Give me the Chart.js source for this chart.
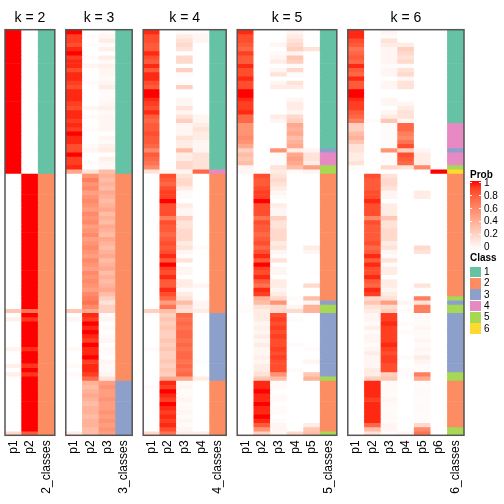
<!DOCTYPE html>
<html lang="es">

<head>
    <meta charset="UTF-8">
    <title>Clases por k</title>
    <script src="https://cdn.jsdelivr.net/npm/chart.js"></script>
    <style>
        body { margin: 0; background: #fff; }
        #stage { position: relative; width: 504px; height: 504px; overflow: hidden; font-family: "Liberation Sans", Arial, sans-serif; }
        #stage canvas { position: absolute; top: 0; }
        .lg { position: absolute; font-size: 10px; line-height: 10px; color: #000; white-space: nowrap; }
        .lg.bold { font-weight: bold; }
        .box { position: absolute; }
    </style>
</head>

<body>
    <div id="stage"></div>

    <script>
        // Probabilidades por fila (96 muestras, mismo orden en todos los paneles)
        const k2_p1 = [
            1,1,1,1,1,1,1,1,1,1, 1,1,1,1,1,1,1,1,1,1, 1,1,1,1,1,1,1,1,1,1,
            1,1,1,1,0,0,0,0,0,0, 0,0,0,0,0,0,0,0,0,0, 0,0,0,0,0,0,0,0,0,0,
            0,0,0,0,0,0,.3,0,.08,0, 0,0,0,0,0,.06,0,0,0,.08, 0,.08,0,0,0,0,0,0,0,0,
            0,0,0,0,0,.2];
        const k2_p2 = [
            0,0,0,0,0,0,0,0,0,0, 0,0,0,0,0,0,0,0,0,0, 0,0,0,0,0,0,0,0,0,0,
            0,0,0,0,1,1,1,1,1,1, 1,1,1,1,1,1,1,1,1,1, 1,1,1,1,1,1,1,1,1,1,
            1,1,1,1,1,1,.7,1,.92,1, 1,1,1,1,1,.94,1,1,1,.92, 1,.92,1,1,1,1,1,1,1,1,
            1,1,1,1,1,.8];
        const k2_classes = '1111111111 1111111111 1111111111 1111222222 2222222222 2222222222 2222222222 2222222222 2222222222 222222';

        const k3_p1 = [
            1,.9,.9,.85,.95,1,.9,.95,.95,.85, .95,.95,.9,.85,.95,.95,.95,.9,.85,.95, .95,.9,.95,.9,1,.95,.95,.85,.85,1,
            .9,.9,.95,.45,0,0,0,0,0,0, 0,0,0,0,0,0,0,0,0,0, 0,0,0,0,0,0,0,0,0,0,
            0,0,0,0,0,0,.3,0,.05,0, 0,0,0,0,0,.03,0,0,0,.03, 0,.03,0,0,0,0,0,0,0,0,
            0,0,0,0,0,.1];
        const k3_p2 = [
            0,.02,0,.02,0,0,.03,0,.05,0, 0,0,.02,0,0,0,0,0,.05,0, .03,0,0,.02,0,0,0,.03,.05,0,
            0,.02,0,.15,.55,.65,.55,.6,.5,.55, .6,.55,.5,.6,.55,.6,.5,.55,.6,.5, .55,.6,.55,.5,.6,.55,.5,.6,.55,.6,
            .55,.5,.6,.65,.7,.6,.45,.95,.9,1, .95,1,.95,.9,1,.95,.95,1,.9,.95, .95,.9,.75,.4,.35,.4,.45,.4,.35,.4,
            .4,.35,.4,.4,.35,.35];
        const k3_p3 = [
            .02,.05,.1,.02,.08,0,.1,.03,.08,.05, .05,.03,.05,.1,.02,.02,.03,.05,.08,.03, .05,.05,.05,.05,0,.05,.03,.08,.1,0,
            .08,.05,.03,.35,.4,.35,.4,.35,.45,.4, .35,.4,.45,.35,.4,.35,.45,.4,.35,.45, .4,.35,.4,.45,.35,.4,.45,.35,.4,.35,
            .4,.45,.35,.25,.15,.25,.25,.02,.05,0, .03,0,.02,.05,0,.03,.02,0,.05,.03, .02,.05,.15,.5,.55,.5,.5,.55,.5,.5,
            .55,.5,.55,.5,.55,.5];
        const k3_classes = '1111111111 1111111111 1111111111 1111222222 2222222222 2222222222 2222222222 2222222222 2223333333 333333';

        const k4_p1 = [
            .95,.85,.85,.8,.8,.95,.85,.8,.95,.8, .95,.95,.85,.8,1,1,.95,.9,.85,.95, .8,.75,.8,.8,.85,.8,.8,.75,.6,.8,
            .75,.7,.6,.15,0,0,0,0,0,0, 0,0,0,0,0,0,0,0,0,0, 0,0,0,0,0,0,0,0,0,0,
            0,0,0,0,0,0,.25,.02,0,0, 0,0,0,0,0,.02,0,0,0,0, 0,0,0,0,.02,0,0,0,0,0,
            0,0,0,0,0,.2];
        const k4_p2 = [
            0,0,0,0,0,0,0,0,0,0, 0,0,0,0,0,0,0,0,0,0, 0,0,0,0,0,0,0,0,0,0,
            0,0,0,.05,.85,.8,.75,.85,.9,.9, 1,.85,.85,.85,.65,.85,.8,.8,.75,.8, .85,.8,.85,.95,.8,1,.9,.85,.95,.8,
            .8,.95,.85,.75,.5,.7,.35,.25,.3,.25, .3,.25,.25,.3,.25,.3,.25,.25,.3,.25, .3,.25,.45,.95,.9,1,.95,.9,1,.95,
            .9,.95,.9,.95,.85,.7];
        const k4_p3 = [
            .02,.1,.15,.2,.15,0,.2,.2,0,.25, .02,0,.02,.25,0,0,.05,.05,.15,.05, .15,.25,.05,.05,.05,.15,.1,.1,.35,.1,
            .1,.2,.2,.05,.15,.2,.2,.1,.02,.02, 0,.1,.05,.05,.25,.15,.15,.2,.2,.2, .1,.15,.05,.02,.15,0,.05,.05,0,.1,
            .1,.02,.1,.15,.35,.2,.15,.75,.7,.75, .7,.75,.75,.7,.75,.7,.75,.75,.7,.75, .7,.75,.45,.03,.05,.02,.03,.05,.02,.03,
            .05,.02,.05,.02,.05,.1];
        const k4_p4 = [
            .02,.05,.05,0,0,0,0,0,0,0, 0,0,0,0,0,0,0,0,0,0, .05,.05,.1,.15,.1,.1,.05,.05,.05,.15,
            .15,.15,.15,.75,0,0,0,0,0,0, 0,0,0,0,0,0,0,0,0,0, 0,.02,0,0,0,0,0,0,0,0,
            .05,0,0,0,.05,.05,.1,0,0,0, 0,0,0,0,0,0,0,0,.02,0, 0,0,.1,0,0,0,0,0,0,0,
            0,0,0,0,0,.1];
        const k4_classes = '1111111111 1111111111 1111111111 1114222222 2222222222 2222222222 2222222333 3333333333 3332222222 222222';

        const k5_p1 = [
            .95,.85,.85,.8,.75,.9,.8,.8,.95,.85, .85,.95,.85,.85,1,1,.95,.9,.9,.95, .75,.75,.55,.55,.55,.6,.55,.45,.25,.35,
            .3,.35,.05,.05,0,0,0,0,0,0, 0,0,0,0,0,0,0,0,0,0, 0,0,0,0,0,0,0,0,0,0,
            0,0,0,0,0,.02,.02,0,0,0, 0,0,0,0,0,0,0,0,0,0, 0,0,0,0,0,0,0,0,0,0,
            0,0,0,0,0,0];
        const k5_p2 = [
            0,0,0,0,0,0,0,0,0,0, 0,0,0,0,0,0,0,0,0,0, 0,0,0,0,0,0,0,0,0,0,
            0,0,0,.02,.85,.8,.8,.85,.9,.9, 1,.85,.85,.85,.7,.85,.8,.8,.75,.8, .85,.75,.85,.95,.8,1,.9,.85,.95,.8,
            .7,.95,.9,.4,.35,.15,.1,.1,.1,.05, .08,.05,.1,.05,.1,.05,.05,.08,.05,.1, .1,.15,.3,.95,.95,1,.95,.95,1,.95,
            .95,1,.95,.8,.55,.25];
        const k5_p3 = [
            0,0,0,.05,0,.03,.05,.1,0,.05, .15,0,.05,.1,0,0,0,0,0,0, .1,.05,0,0,0,0,0,0,.55,.02,
            .02,.02,.15,.1,.15,.2,.15,.1,.05,.02, 0,.1,.05,.05,.25,.15,.15,.2,.2,.2, .1,.15,.05,.02,.15,0,.05,.05,0,.1,
            .1,.05,.1,.2,.55,.2,.2,.85,.9,.85, .9,.85,.9,.85,.85,.9,.85,.9,.85,.85, .85,.55,.35,.02,.03,0,.02,.03,0,.02,
            .03,0,.02,.05,.05,.05];
        const k5_p4 = [
            .05,.1,.15,.2,.25,.05,.3,.25,.02,.2, .02,0,.15,.1,0,0,.05,.1,.1,.05, .2,.25,.45,.4,.45,.35,.4,.45,.1,.45,
            .5,.45,.35,.02,0,0,0,0,0,0, 0,0,0,0,0,0,0,0,0,0, 0,0,0,0,0,0,0,0,0,0,
            0,0,0,.02,0,.05,.2,0,.02,0, 0,0,0,0,.02,0,0,0,0,0, .02,0,0,0,0,0,0,0,0,0,
            0,0,0,0,0,.2];
        const k5_p5 = [
            0,0,0,0,.15,0,0,0,0,0, 0,0,0,0,0,0,0,0,0,0, 0,0,0,0,0,0,0,0,.05,.15,
            .15,.1,.5,.05,0,0,0,0,0,0, 0,0,0,0,0,0,0,0,0,0, 0,.1,.05,0,0,0,0,0,0,0,
            .2,0,0,.35,.05,.4,.4,0,0,0, 0,0,0,0,0,.02,0,0,.05,0, 0,.3,.4,0,0,0,0,0,0,0,
            0,0,0,.1,.3,.35];
        const k5_classes = '1111111111 1111111111 1111111134 4455222222 2222222222 2222222222 2222355333 3333333333 3352222222 222225';

        const k6_p1 = [
            .95,.95,.85,.8,.7,.75,.8,.75,.95,.8, .75,.95,.8,.8,1,1,.95,.9,.9,.8, .75,.65,.25,.25,.35,.4,.3,.15,.15,.1,
            .1,.15,.02,0,0,0,0,0,0,0, 0,0,0,0,0,0,0,0,0,0, 0,0,0,0,0,0,0,0,0,0,
            0,0,0,0,0,0,0,0,0,0, 0,0,0,0,0,0,0,0,0,0, 0,0,0,0,0,0,0,0,0,0,
            0,0,0,0,0,0];
        const k6_p2 = [
            0,0,0,0,0,0,0,0,0,0, 0,0,0,0,0,0,0,0,0,0, 0,.02,0,0,0,0,0,0,0,0,
            0,0,0,0,.85,.8,.8,.8,.85,.85, .95,.85,.85,.85,.6,.85,.8,.8,.8,.8, .85,.75,.8,.95,.8,.95,.85,.85,.95,.8,
            .75,.95,.9,.2,.3,.15,.1,.05,.05,.02, .08,.02,.05,.05,.02,.05,.1,.05,.05,.05, .1,.1,.25,.95,.95,.95,.95,.9,.95,.95,
            .95,.95,.95,.75,.35,.15];
        const k6_p3 = [
            .05,.02,.15,.1,.05,.05,.05,.05,.02,.05, .05,0,.05,.05,0,0,.05,.05,0,.05, .1,.3,.02,.02,.02,.02,.02,.02,.55,.02,
            .02,.02,.2,0,.15,.2,.2,.15,.05,.05, 0,.1,.1,.1,.3,.15,.15,.2,.2,.2, .1,.15,.05,.02,.15,.02,.1,.1,0,.1,
            .1,.05,.1,.15,.5,.2,.25,.9,.9,.95, .9,.9,.9,.9,.95,.9,.85,.9,.9,.85, .85,.25,.3,.02,.03,.02,.02,.05,.03,.02,
            .02,.03,.02,.05,.05,.02];
        const k6_p4 = [
            0,0,0,.1,.25,.2,.15,.2,.02,.15, .2,.05,.15,.15,0,0,0,.05,.1,.15, .15,.05,.75,.75,.65,.6,.7,.85,.25,.85,
            .8,.75,.15,0,0,0,0,0,0,0, 0,0,0,0,0,0,0,0,0,0, 0,0,0,0,0,0,0,0,0,0,
            0,0,0,0,.05,0,.02,0,0,.02, 0,.02,0,0,0,0,0,.02,0,0, .02,.02,0,0,0,0,0,0,0,0,
            0,0,0,0,0,.05];
        const k6_p5 = [
            0,0,0,0,0,0,0,0,0,0, 0,0,0,0,0,0,0,0,0,0, 0,0,0,0,0,0,0,0,.05,.1,
            .1,.1,.6,0,0,0,0,0,.1,.1, 0,0,0,0,0,0,0,0,0,0, 0,.2,.15,0,0,0,0,0,0,0,
            .15,0,0,.65,.15,.65,.65,.02,.03,.02, .05,.03,.02,.05,.02,.05,.03,.1,.05,.02, .02,.65,.45,.02,.02,.03,.02,.02,.02,.03,
            .02,.02,.02,.2,.6,.7];
        const k6_p6 = [
            0,0,0,0,0,0,0,0,0,0, 0,0,0,0,0,0,0,0,0,0, 0,0,0,0,0,0,0,0,0,0,
            0,0,0,1,0,0,0,0,0,0, 0,0,0,0,0,0,0,0,0,0, 0,0,0,0,0,0,0,0,0,0,
            0,0,0,0,0,0,0,0,0,0, 0,0,0,0,0,0,0,0,0,0, 0,0,0,0,0,0,0,0,0,0,
            0,0,0,0,0,0];
        const k6_classes = '1111111111 1111111111 1144444434 4456222222 2222222222 2222222222 2225355333 3333333333 3552222222 222255';

        // Colores de clase (Set2) y etiquetas de la escala
        const classColors = ['#66C2A5', '#FC8D62', '#8DA0CB', '#E78AC3', '#A6D854', '#FFD92F'];
        const classLabels = ['1', '2', '3', '4', '5', '6'];
        const probBreaks = [1, 0.8, 0.6, 0.4, 0.2, 0];

        const panels = [
            { k: 2, probs: [k2_p1, k2_p2], classes: k2_classes },
            { k: 3, probs: [k3_p1, k3_p2, k3_p3], classes: k3_classes },
            { k: 4, probs: [k4_p1, k4_p2, k4_p3, k4_p4], classes: k4_classes },
            { k: 5, probs: [k5_p1, k5_p2, k5_p3, k5_p4, k5_p5], classes: k5_classes },
            { k: 6, probs: [k6_p1, k6_p2, k6_p3, k6_p4, k6_p5, k6_p6], classes: k6_classes }
        ];

        const FONT = '"Liberation Sans", Arial, sans-serif';
        const COL_W = 16.6, GAP = 11, LEFT0 = 5;
        const BOTTOM = 435.3, PAD = 14, H = 504;

        // Escala de color blanco -> rojo interpolada en LAB
        function rgbToLab(r, g, b) {
            const lin = c => { c /= 255; return c <= 0.04045 ? c / 12.92 : Math.pow((c + 0.055) / 1.055, 2.4); };
            const R = lin(r), G = lin(g), B = lin(b);
            const X = (0.4124 * R + 0.3576 * G + 0.1805 * B) / 0.95047;
            const Y = (0.2126 * R + 0.7152 * G + 0.0722 * B);
            const Z = (0.0193 * R + 0.1192 * G + 0.9505 * B) / 1.08883;
            const f = t => t > 0.008856 ? Math.cbrt(t) : 7.787 * t + 16 / 116;
            return [116 * f(Y) - 16, 500 * (f(X) - f(Y)), 200 * (f(Y) - f(Z))];
        }

        function labToRgb(L, a, b) {
            const fy = (L + 16) / 116, fx = fy + a / 500, fz = fy - b / 200;
            const inv = t => t * t * t > 0.008856 ? t * t * t : (t - 16 / 116) / 7.787;
            const X = 0.95047 * inv(fx), Y = inv(fy), Z = 1.08883 * inv(fz);
            const R = 3.2406 * X - 1.5372 * Y - 0.4986 * Z;
            const G = -0.9689 * X + 1.8758 * Y + 0.0415 * Z;
            const B = 0.0557 * X - 0.2040 * Y + 1.0570 * Z;
            const g = c => {
                c = Math.min(1, Math.max(0, c));
                c = c <= 0.0031308 ? 12.92 * c : 1.055 * Math.pow(c, 1 / 2.4) - 0.055;
                return Math.round(c * 255);
            };
            return `rgb(${g(R)}, ${g(G)}, ${g(B)})`;
        }

        const LAB_LOW = rgbToLab(255, 255, 255);
        const LAB_HIGH = rgbToLab(255, 0, 0);

        function probColor(v) {
            return labToRgb(
                LAB_LOW[0] + (LAB_HIGH[0] - LAB_LOW[0]) * v,
                LAB_LOW[1] + (LAB_HIGH[1] - LAB_LOW[1]) * v,
                LAB_LOW[2] + (LAB_HIGH[2] - LAB_LOW[2]) * v
            );
        }

        // Marco gris alrededor de cada heatmap
        const framePlugin = {
            id: 'frame',
            afterDatasetsDraw(chart) {
                const a = chart.chartArea;
                const ctx = chart.ctx;
                ctx.save();
                ctx.strokeStyle = '#555555';
                ctx.lineWidth = 1.5;
                ctx.strokeRect(a.left, a.top, a.right - a.left, a.bottom - a.top);
                ctx.restore();
            }
        };

        const stage = document.getElementById('stage');
        let panelLeft = LEFT0;

        panels.forEach(p => {
            const classes = p.classes.replace(/\s/g, '').split('').map(Number);
            const labels = p.probs.map((_, j) => 'p' + (j + 1)).concat(p.k + '_classes');
            const width = labels.length * COL_W;

            const cvLeft = Math.floor(panelLeft) - PAD;
            const cvW = Math.ceil(panelLeft + width) + PAD - cvLeft;
            const canvas = document.createElement('canvas');
            canvas.width = cvW;
            canvas.height = H;
            canvas.style.left = cvLeft + 'px';
            stage.appendChild(canvas);

            // Una serie por muestra: cada fila es un bloque apilado de altura 1
            const datasets = classes.map((c, r) => ({
                data: labels.map(() => 1),
                backgroundColor: p.probs.map(col => probColor(col[r])).concat(classColors[c - 1]),
                borderWidth: 0
            }));

            new Chart(canvas, {
                type: 'bar',
                data: { labels, datasets },
                options: {
                    responsive: false,
                    animation: false,
                    devicePixelRatio: 1,
                    barPercentage: 1,
                    categoryPercentage: 1,
                    layout: {
                        padding: { left: panelLeft - cvLeft, right: cvLeft + cvW - panelLeft - width, top: 0, bottom: 0 }
                    },
                    plugins: {
                        legend: { display: false },
                        tooltip: { enabled: false },
                        title: {
                            display: true,
                            text: 'k = ' + p.k,
                            color: '#000',
                            font: { family: FONT, size: 14, weight: 'normal' },
                            padding: { top: 10, bottom: 2.9 }
                        }
                    },
                    scales: {
                        x: {
                            stacked: true,
                            grid: { display: false, drawTicks: false },
                            border: { display: false },
                            ticks: {
                                color: '#000',
                                font: { family: FONT, size: 12 },
                                padding: 5,
                                minRotation: 90,
                                maxRotation: 90,
                                autoSkip: false
                            },
                            afterFit(scale) {
                                scale.height = H - BOTTOM;
                                scale.paddingLeft = 0;
                                scale.paddingRight = 0;
                            }
                        },
                        y: {
                            stacked: true,
                            display: false,
                            reverse: true,
                            min: 0,
                            max: classes.length
                        }
                    }
                },
                plugins: [framePlugin]
            });

            panelLeft += width + GAP;
        });

        // Leyendas: Prob (gradiente) y Class
        function addText(text, left, top, bold) {
            const d = document.createElement('div');
            d.className = 'lg' + (bold ? ' bold' : '');
            d.textContent = text;
            d.style.left = left + 'px';
            d.style.top = top + 'px';
            stage.appendChild(d);
        }

        function addBox(left, top, w, h, bg) {
            const d = document.createElement('div');
            d.className = 'box';
            d.style.left = left + 'px';
            d.style.top = top + 'px';
            d.style.width = w + 'px';
            d.style.height = h + 'px';
            d.style.background = bg;
            stage.appendChild(d);
        }

        const LG_X = 470;
        addText('Prob', LG_X, 169.5, true);
        const gradTop = 180.5, gradH = 69;
        const stops = [];
        for (let i = 0; i <= 10; i++) stops.push(probColor(1 - i / 10) + ' ' + (i * 10) + '%');
        addBox(LG_X, gradTop, 11, gradH, 'linear-gradient(to bottom, ' + stops.join(', ') + ')');
        probBreaks.forEach((b, i) => {
            const y = 182.7 + i * 12.92;
            addBox(LG_X, y - 0.5, 2, 1, '#fff');
            addBox(LG_X + 9, y - 0.5, 2, 1, '#fff');
            addText(String(b), LG_X + 14, y - 5, false);
        });

        addText('Class', LG_X, 253, true);
        classLabels.forEach((lab, i) => {
            const y = 266.8 + i * 11.3;
            addBox(LG_X, y, 11, 10.6, classColors[i]);
            addText(lab, LG_X + 14, y + 0.3, false);
        });
    </script>
</body>

</html>
